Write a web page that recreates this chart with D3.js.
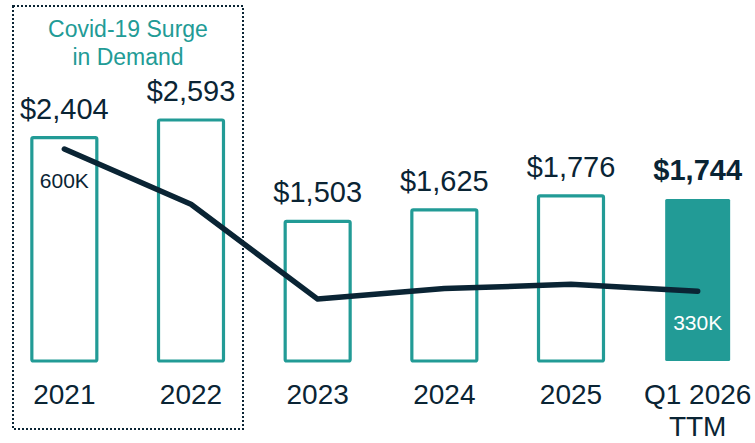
<!DOCTYPE html>
<html>
<head>
<meta charset="utf-8">
<script src="https://cdn.jsdelivr.net/npm/d3@7"></script>
<style>
  body { margin: 0; background: #fff; }
  svg { display: block; font-family: "Liberation Sans", Arial, sans-serif; }
</style>
</head>
<body>
<svg id="chart" width="755" height="443"></svg>
<script>
// datos
const years = ["2021", "2022", "2023", "2024", "2025", "Q1 2026 TTM"];
const revenue = [2404, 2593, 1503, 1625, 1776, 1744];
const units = [600, 495, 315, 335, 343, 330];   // en miles
const unitLabels = { "2021": "600K", "Q1 2026 TTM": "330K" };
const boxTitle = ["Covid-19 Surge", "in Demand"];

const teal = "#229b96", navy = "#0a2434";

const svg = d3.select('#chart');

const x = d3.scaleBand().domain(years).range([1, 761]).paddingInner(0.487).paddingOuter(0.2435);
const y = d3.scaleLinear().domain([0, 2593]).range([361, 120]);
const yLine = d3.scaleLinear().domain([0, 600]).range([465, 149]);

const rows = years.map((k, i) => ({ year: k, rev: revenue[i], units: units[i], last: i === years.length - 1 }));

// caja punteada
svg.append('rect')
  .attr('x', 13).attr('y', 6)
  .attr('width', 230).attr('height', 423)
  .attr('fill', 'none').attr('stroke', navy)
  .attr('stroke-width', 2).attr('stroke-dasharray', '2,2');

svg.append('text')
  .attr('x', 128).attr('text-anchor', 'middle')
  .style('font-size', '23px').attr('fill', teal)
  .selectAll('tspan').data(boxTitle).enter().append('tspan')
  .attr('x', 128).attr('y', (d, i) => 37 + i * 28)
  .text(d => d);

// barras
svg.selectAll('.bar').data(rows).enter().append('rect')
  .attr('class', 'bar')
  .attr('x', d => x(d.year))
  .attr('y', d => y(d.rev))
  .attr('width', x.bandwidth())
  .attr('height', d => y(0) - y(d.rev))
  .attr('rx', 1.5)
  .attr('fill', d => d.last ? teal : 'none')
  .attr('stroke', d => d.last ? 'none' : teal)
  .attr('stroke-width', 3.2);

svg.selectAll('.val').data(rows).enter().append('text')
  .attr('class', 'val')
  .attr('x', d => x(d.year) + x.bandwidth() / 2)
  .attr('y', d => y(d.rev) - 19)
  .attr('text-anchor', 'middle')
  .style('font-size', '29px')
  .style('font-weight', d => d.last ? 'bold' : 'normal')
  .attr('fill', navy)
  .text(d => '$' + d3.format(',')(d.rev));

// etiquetas eje x
svg.selectAll('.yr').data(rows).enter().append('text')
  .attr('class', 'yr')
  .attr('text-anchor', 'middle')
  .style('font-size', '28px')
  .attr('fill', navy)
  .each(function(d) {
    const parts = d.year === "Q1 2026 TTM" ? ["Q1 2026", "TTM"] : [d.year];
    d3.select(this).selectAll('tspan').data(parts).enter().append('tspan')
      .attr('x', x(d.year) + x.bandwidth() / 2)
      .attr('y', (p, i) => 404 + i * 32)
      .text(p => p);
  });

// línea de unidades
const line = d3.line()
  .x(d => x(d.year) + x.bandwidth() / 2)
  .y(d => yLine(d.units));

svg.append('path').datum(rows)
  .attr('d', line)
  .attr('fill', 'none')
  .attr('stroke', navy)
  .attr('stroke-width', 5.5)
  .attr('stroke-linecap', 'round')
  .attr('stroke-linejoin', 'round');

svg.selectAll('.ul').data(rows.filter(d => unitLabels[d.year])).enter().append('text')
  .attr('class', 'ul')
  .attr('x', d => x(d.year) + x.bandwidth() / 2)
  .attr('y', d => yLine(d.units) + 39)
  .attr('text-anchor', 'middle')
  .style('font-size', '21px')
  .attr('fill', d => d.last ? '#fff' : navy)
  .text(d => unitLabels[d.year]);
</script>
</body>
</html>
